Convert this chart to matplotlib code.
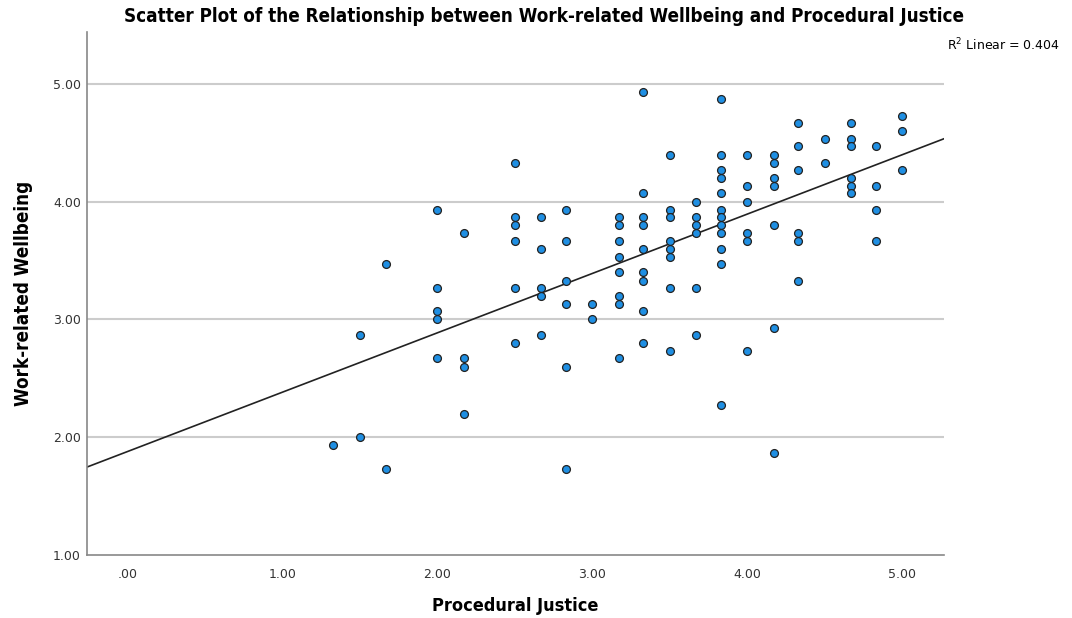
import numpy as np
import matplotlib.pyplot as plt

plt.rcParams['font.family'] = ['DejaVu Sans']

# values, grouped by Procedural Justice score
pj_levels = [1.33, 1.50, 1.67, 2.00, 2.17, 2.50, 2.67, 2.83, 3.00, 3.17, 3.33,
             3.50, 3.67, 3.83, 4.00, 4.17, 4.33, 4.50, 4.67, 4.83, 5.00]
wellbeing = [
    [1.93],
    [2.87, 2.00],
    [3.47, 1.73],
    [3.93, 3.27, 3.07, 3.00, 2.67],
    [3.73, 2.67, 2.60, 2.20],
    [4.33, 3.87, 3.80, 3.67, 3.27, 2.80],
    [3.87, 3.60, 3.27, 3.20, 2.87],
    [3.93, 3.67, 3.33, 3.13, 2.60, 1.73],
    [3.13, 3.00],
    [3.87, 3.80, 3.67, 3.53, 3.40, 3.20, 3.13, 2.67],
    [4.93, 4.07, 3.87, 3.80, 3.60, 3.40, 3.33, 3.07, 2.80],
    [4.40, 3.93, 3.87, 3.67, 3.60, 3.53, 3.27, 2.73],
    [4.00, 3.87, 3.80, 3.73, 3.27, 2.87],
    [4.87, 4.40, 4.27, 4.20, 4.07, 3.93, 3.87, 3.80, 3.73, 3.60, 3.47, 2.27],
    [4.40, 4.13, 4.00, 3.73, 3.67, 2.73],
    [4.40, 4.33, 4.20, 4.13, 3.80, 2.93, 1.87],
    [4.67, 4.47, 4.27, 3.73, 3.67, 3.33],
    [4.53, 4.33],
    [4.67, 4.53, 4.47, 4.20, 4.13, 4.07],
    [4.47, 4.13, 3.93, 3.67],
    [4.73, 4.60, 4.27],
]
# fit line as shown in the reference (some points overlap there)
fit_intercept = 1.878
fit_slope = 0.504
r2_text = 'R$^2$ Linear = 0.404'

x = np.concatenate([[p] * len(v) for p, v in zip(pj_levels, wellbeing)])
y = np.concatenate(wellbeing)

fig = plt.figure(figsize=(10.72, 6.18), dpi=100)
ax = fig.add_axes([0.0812, 0.1019, 0.7994, 0.8463])

xmin, xmax = -0.26, 5.27
ax.set_xlim(xmin, xmax)
ax.set_ylim(1.0, 5.44)

# gridlines
for g in [2, 3, 4, 5]:
    ax.axhline(g, color='#cccccc', lw=1.5, zorder=0)

xx = np.array([xmin, xmax])
ax.plot(xx, fit_intercept + fit_slope * xx, color='#222222', lw=1.2, zorder=2)

ax.scatter(x, y, s=32, c='#1f8fe3', edgecolors='#222222', linewidths=0.9, zorder=3)

ax.set_xticks([0, 1, 2, 3, 4, 5])
ax.set_xticklabels(['.00', '1.00', '2.00', '3.00', '4.00', '5.00'])
ax.set_yticks([1, 2, 3, 4, 5])
ax.set_yticklabels(['1.00', '2.00', '3.00', '4.00', '5.00'])
ax.tick_params(axis='x', length=0, pad=9, labelsize=9, labelcolor='#333333')
ax.tick_params(axis='y', length=0, pad=4.5, labelsize=9, labelcolor='#333333')

for s in ['top', 'right']:
    ax.spines[s].set_visible(False)
for s in ['left', 'bottom']:
    ax.spines[s].set_color('#888888')
    ax.spines[s].set_linewidth(1.2)

ax.set_xlabel('Procedural Justice', fontsize=13, fontweight='bold',
              fontstretch='condensed', labelpad=12)
ax.set_ylabel('Work-related Wellbeing', fontsize=13.5, fontweight='bold',
              fontstretch='condensed', labelpad=14)

fig.text(0.507, 0.974, 'Scatter Plot of the Relationship between Work-related Wellbeing and Procedural Justice',
         ha='center', va='center', fontsize=13.5, fontweight='bold', fontstretch='condensed')
fig.text(0.989, 0.927, r2_text, ha='right', va='center', fontsize=9)

fig.savefig('out.png', dpi=100)
